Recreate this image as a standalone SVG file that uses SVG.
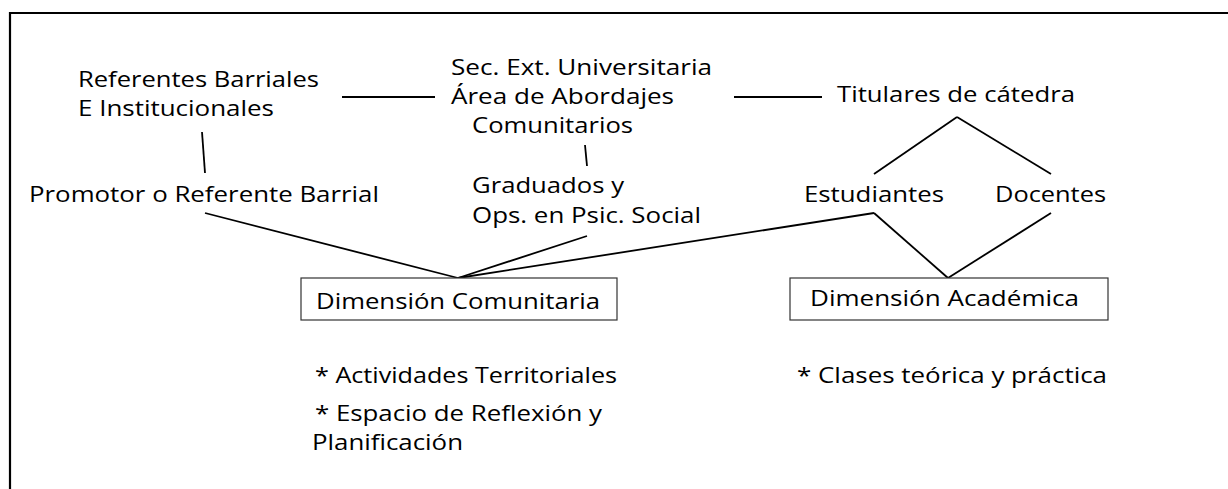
<svg xmlns="http://www.w3.org/2000/svg" width="1228" height="489" viewBox="0 0 1228 489">
<style>
text{font-family:"Open Sans","Noto Sans","Liberation Sans",sans-serif;font-size:22.5px;fill:#000}
.c{stroke:#000;stroke-width:1.8;fill:none;stroke-linecap:butt}
.box{fill:#fff;stroke:#333;stroke-width:1.2}
.frame{stroke:#000;stroke-width:2.2;fill:none}
</style>
<rect width="1228" height="489" fill="#fff"/>
<path class="frame" d="M10,489 V13 H1228"/>
<g id="connectors">
<line class="c" x1="342" y1="97" x2="435" y2="97"/>
<line class="c" x1="734" y1="97" x2="822" y2="97"/>
<line class="c" x1="202" y1="132" x2="205" y2="173"/>
<line class="c" x1="585" y1="145" x2="587" y2="166"/>
<line class="c" x1="205" y1="213" x2="458" y2="278"/>
<line class="c" x1="587" y1="236" x2="458" y2="278"/>
<line class="c" x1="874" y1="213" x2="458" y2="278"/>
<line class="c" x1="957" y1="117" x2="874" y2="174"/>
<line class="c" x1="957" y1="117" x2="1051" y2="174"/>
<line class="c" x1="874" y1="213" x2="948" y2="278"/>
<line class="c" x1="1051" y1="213" x2="948" y2="278"/>
</g>
<g id="referentes">
<text x="78" y="87" textLength="241" lengthAdjust="spacingAndGlyphs">Referentes Barriales</text>
<text x="78" y="116" textLength="196" lengthAdjust="spacingAndGlyphs">E Institucionales</text>
</g>
<g id="promotor">
<text x="29" y="202" textLength="350" lengthAdjust="spacingAndGlyphs">Promotor o Referente Barrial</text>
</g>
<g id="secretaria">
<text x="451" y="75" textLength="261" lengthAdjust="spacingAndGlyphs">Sec. Ext. Universitaria</text>
<text x="451" y="104" textLength="223" lengthAdjust="spacingAndGlyphs">Área de Abordajes</text>
<text x="472" y="133" textLength="161" lengthAdjust="spacingAndGlyphs">Comunitarios</text>
</g>
<g id="graduados">
<text x="472" y="193" textLength="152" lengthAdjust="spacingAndGlyphs">Graduados y</text>
<text x="472" y="223" textLength="229" lengthAdjust="spacingAndGlyphs">Ops. en Psic. Social</text>
</g>
<g id="titulares">
<text x="837" y="102" textLength="238" lengthAdjust="spacingAndGlyphs">Titulares de cátedra</text>
</g>
<g id="estudiantes">
<text x="804" y="202" textLength="140" lengthAdjust="spacingAndGlyphs">Estudiantes</text>
</g>
<g id="docentes">
<text x="995" y="202" textLength="111" lengthAdjust="spacingAndGlyphs">Docentes</text>
</g>
<g id="dim-comunitaria">
<rect class="box" x="301" y="278" width="316" height="42"/>
<text x="316" y="309" textLength="284" lengthAdjust="spacingAndGlyphs">Dimensión Comunitaria</text>
</g>
<g id="dim-academica">
<rect class="box" x="790" y="278" width="318" height="42"/>
<text x="810" y="306" textLength="269" lengthAdjust="spacingAndGlyphs">Dimensión Académica</text>
</g>
<g id="actividades-comunitaria">
<text x="315" y="383" textLength="302" lengthAdjust="spacingAndGlyphs">* Actividades Territoriales</text>
<text x="315" y="421" textLength="287" lengthAdjust="spacingAndGlyphs">* Espacio de Reflexión y</text>
<text x="312" y="450" textLength="151" lengthAdjust="spacingAndGlyphs">Planificación</text>
</g>
<g id="actividades-academica">
<text x="797" y="383" textLength="310" lengthAdjust="spacingAndGlyphs">* Clases teórica y práctica</text>
</g>
</svg>
